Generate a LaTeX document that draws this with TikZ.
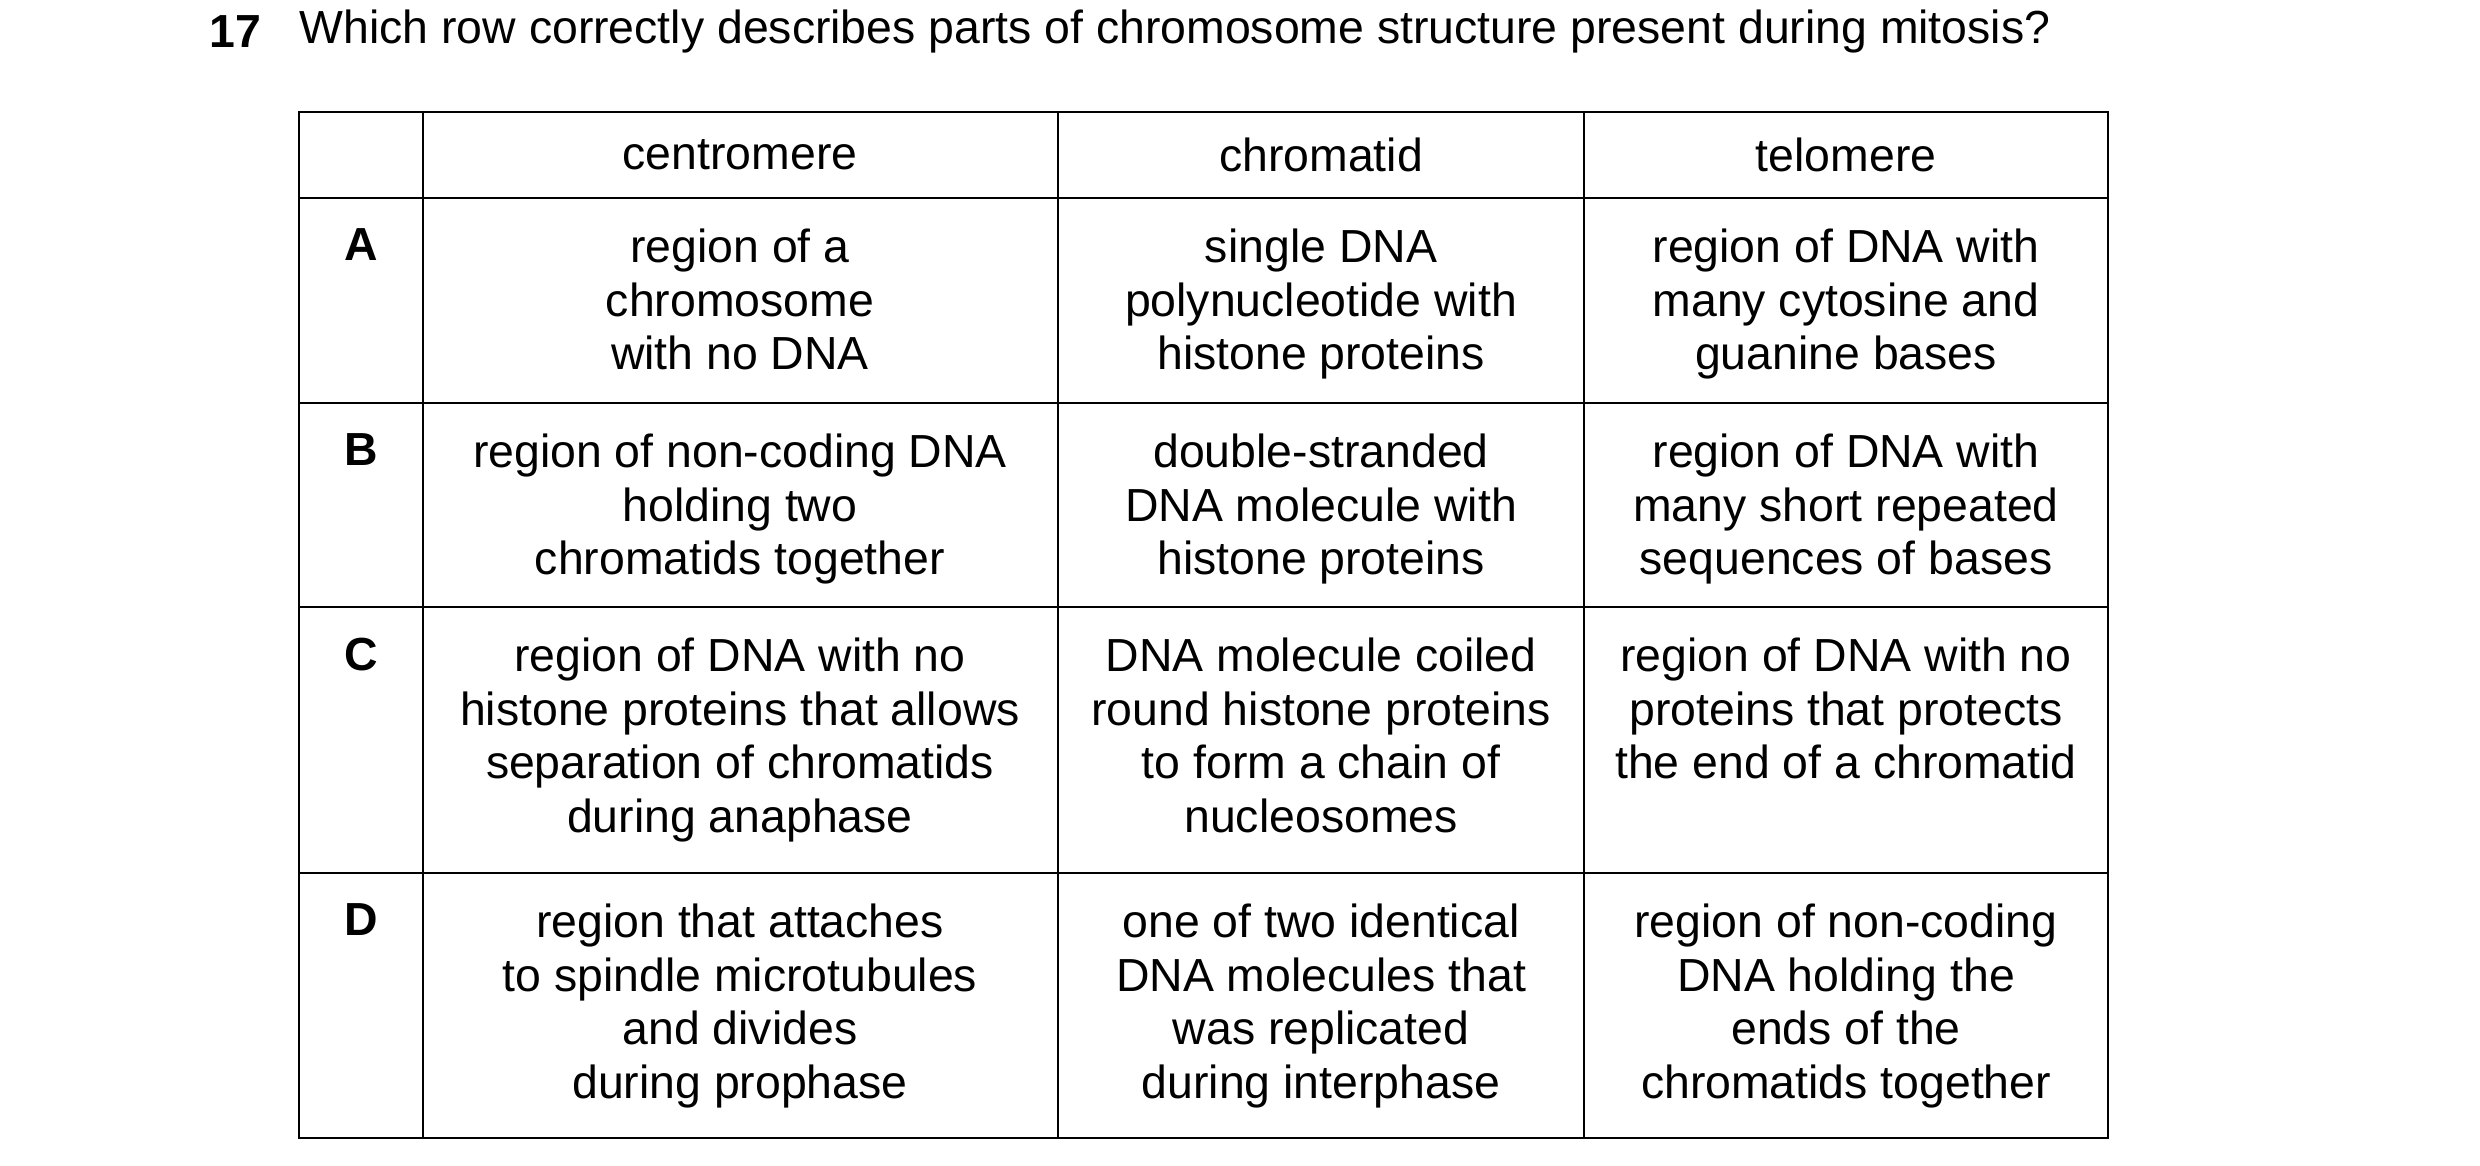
\documentclass[tikz,border=0pt]{standalone}
\usepackage{fontspec}
\setmainfont{Liberation Sans}
\usetikzlibrary{positioning}

\begin{document}
\begin{tikzpicture}[
    cell/.style={anchor=north, inner sep=0pt, align=center, font=\fontsize{13.2}{15.3}\selectfont},
    head/.style={inner sep=0pt, font=\fontsize{13.2}{15.3}\selectfont},
    letter/.style={anchor=north, inner sep=0pt, font=\fontsize{13.2}{15.3}\selectfont\bfseries},
    grid/.style={line width=0.6pt}
]
\useasboundingbox (0,0) rectangle (24.8,11.65);

% Question
\node[head, anchor=west, font=\fontsize{13.2}{15.3}\selectfont\bfseries] (num) at (2.09,11.33) {17};
\node[head, anchor=west] (question) at (2.99,11.33) {Which row correctly describes parts of chromosome structure present during mitosis?};

% Grid
\draw[grid] (2.99,10.53) rectangle (21.08,0.27);
\foreach \x in {4.23,10.58,15.84} \draw[grid] (\x,10.53) -- (\x,0.27);
\foreach \y in {9.67,7.62,5.58,2.92} \draw[grid] (2.99,\y) -- (21.08,\y);

% Header
\node[head] (hcen) at (7.40,10.10) {centromere};
\node[head] (hchr) at (13.21,10.10) {chromatid};
\node[head] (htel) at (18.46,10.10) {telomere};

% Row A
\node[letter] (la) at (3.61,9.37) {A};
\node[cell] (acen) at (7.40,9.37) {region of a\\chromosome\\with no DNA};
\node[cell] (achr) at (13.21,9.37) {single DNA\\polynucleotide with\\histone proteins};
\node[cell] (atel) at (18.46,9.37) {region of DNA with\\many cytosine and\\guanine bases};

% Row B
\node[letter] (lb) at (3.61,7.32) {B};
\node[cell] (bcen) at (7.40,7.32) {region of non-coding DNA\\holding two\\chromatids together};
\node[cell] (bchr) at (13.21,7.32) {double-stranded\\DNA molecule with\\histone proteins};
\node[cell] (btel) at (18.46,7.32) {region of DNA with\\many short repeated\\sequences of bases};

% Row C
\node[letter] (lc) at (3.61,5.28) {C};
\node[cell] (ccen) at (7.40,5.28) {region of DNA with no\\histone proteins that allows\\separation of chromatids\\during anaphase};
\node[cell] (cchr) at (13.21,5.28) {DNA molecule coiled\\round histone proteins\\to form a chain of\\nucleosomes};
\node[cell] (ctel) at (18.46,5.28) {region of DNA with no\\proteins that protects\\the end of a chromatid};

% Row D
\node[letter] (ld) at (3.61,2.62) {D};
\node[cell] (dcen) at (7.40,2.62) {region that attaches\\to spindle microtubules\\and divides\\during prophase};
\node[cell] (dchr) at (13.21,2.62) {one of two identical\\DNA molecules that\\was replicated\\during interphase};
\node[cell] (dtel) at (18.46,2.62) {region of non-coding\\DNA holding the\\ends of the\\chromatids together};
\end{tikzpicture}
\end{document}
